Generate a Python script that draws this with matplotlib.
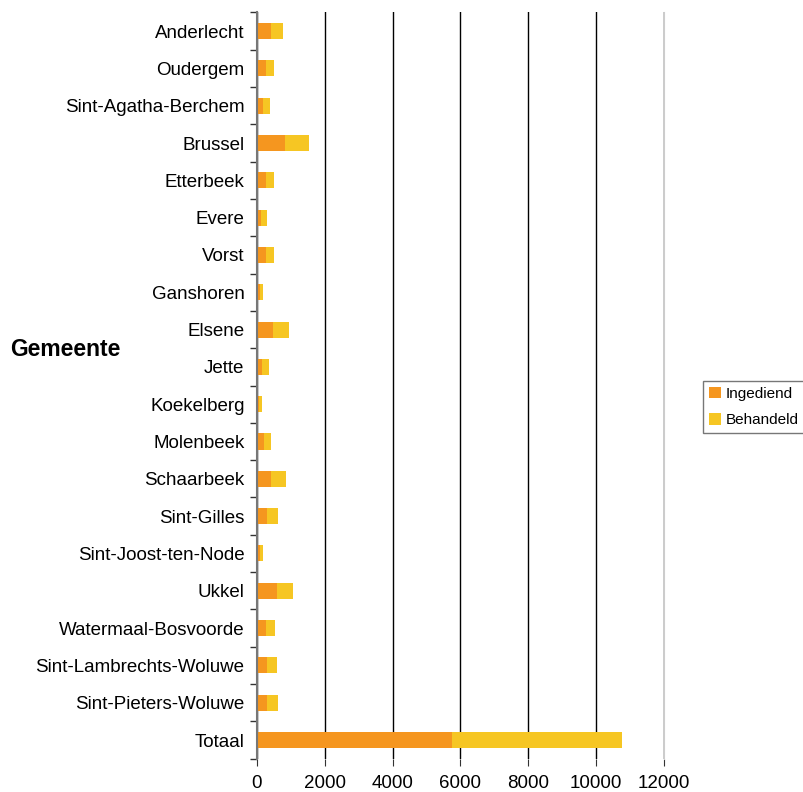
import numpy as np
import matplotlib.pyplot as plt

plt.rcParams['font.family'] = ['Liberation Sans', 'DejaVu Sans']

# Data
gemeenten = ['Anderlecht', 'Oudergem', 'Sint-Agatha-Berchem', 'Brussel', 'Etterbeek',
             'Evere', 'Vorst', 'Ganshoren', 'Elsene', 'Jette', 'Koekelberg',
             'Molenbeek', 'Schaarbeek', 'Sint-Gilles', 'Sint-Joost-ten-Node',
             'Ukkel', 'Watermaal-Bosvoorde', 'Sint-Lambrechts-Woluwe',
             'Sint-Pieters-Woluwe', 'Totaal']
ingediend = [400, 265, 185, 835, 265, 130, 265, 100, 460, 155, 60,
             195, 420, 305, 100, 600, 255, 305, 305, 5750]
behandeld = [365, 225, 205, 705, 225, 165, 225, 85, 480, 210, 95,
             225, 445, 325, 85, 460, 275, 285, 325, 5010]

orange = '#F5961F'
yellow = '#F6C623'

fig = plt.figure(figsize=(8.04, 7.92), dpi=100)
ax = fig.add_axes([257 / 804, 1 - 758.7 / 792, 407 / 804, (758.7 - 12.4) / 792])

y = np.arange(len(gemeenten))
ax.barh(y, ingediend, height=0.43, color=orange, label='Ingediend', zorder=3)
ax.barh(y, behandeld, left=ingediend, height=0.43, color=yellow, label='Behandeld', zorder=3)

ax.set_ylim(len(gemeenten) - 0.5, -0.5)
ax.set_xlim(0, 12000)
ax.set_xticks(np.arange(0, 12001, 2000))
ax.set_yticks(y)
ax.set_yticklabels(gemeenten, fontsize=13.5)
ax.set_yticks(np.arange(-0.5, len(gemeenten)), minor=True)
ax.tick_params(axis='y', which='major', length=0, pad=9)
ax.tick_params(axis='y', which='minor', length=5, width=1, color='#333333')
ax.tick_params(axis='x', labelsize=13.5, length=5, color='#333333', pad=7)

ax.grid(axis='x', color='black', linewidth=1, zorder=0)
ax.spines['top'].set_visible(False)
ax.spines['right'].set_color('#cccccc')
ax.spines['left'].set_color('#777777')
ax.spines['left'].set_linewidth(1.5)
ax.spines['left'].set_zorder(4)
ax.spines['bottom'].set_visible(False)

fig.text(10 / 804, 1 - 350 / 792, 'Gemeente', fontsize=16.5, fontweight='bold',
         ha='left', va='center')

leg = fig.legend(loc='center left', bbox_to_anchor=(703 / 804, 1 - 407 / 792),
                 fontsize=11, frameon=True, fancybox=False, edgecolor='#555555',
                 handlelength=0.8, handleheight=0.8, handletextpad=0.3,
                 borderpad=0.4, labelspacing=0.8, borderaxespad=0)
leg.get_frame().set_linewidth(1)

fig.savefig('out.png', dpi=100)
